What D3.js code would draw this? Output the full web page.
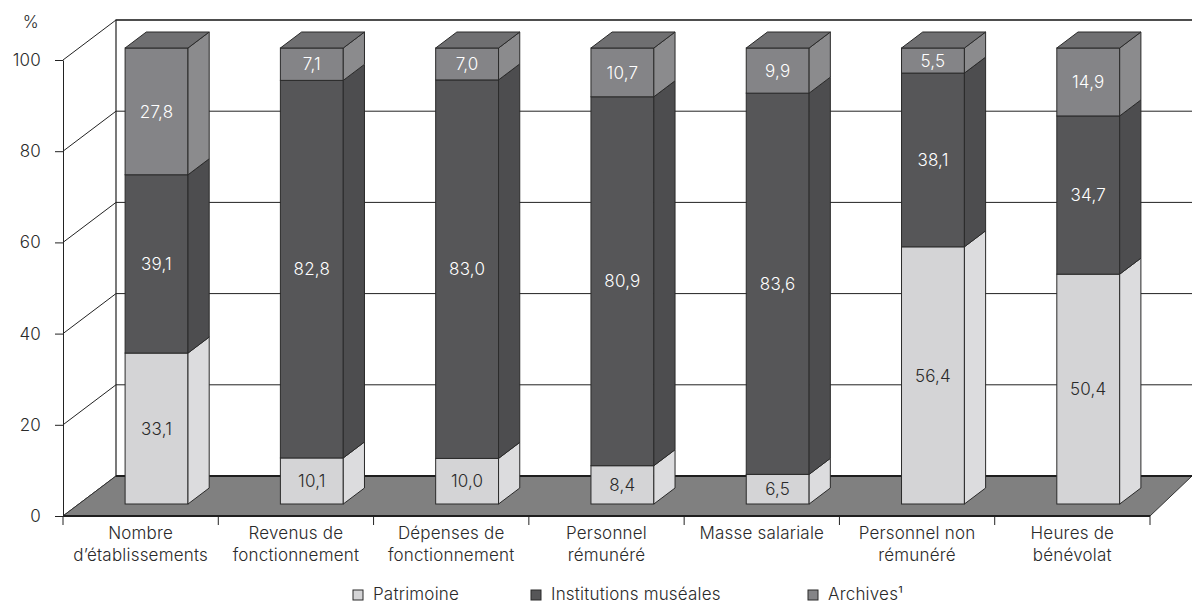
<!DOCTYPE html>
<html>
<head>
<meta charset="utf-8">
<script src="https://cdn.jsdelivr.net/npm/d3@7"></script>
<style>
  body { margin: 0; background: #fff; }
  text { font-family: Inter, "DejaVu Sans", sans-serif; font-size: 17px; font-weight: 300; fill: #2a2a2a; letter-spacing: 0.2px; }
</style>
</head>
<body>
<svg id="chart" width="1192" height="606"></svg>
<script>
// categories (two-line labels)
const categories = [
    ['Nombre', 'd’établissements'],
    ['Revenus de', 'fonctionnement'],
    ['Dépenses de', 'fonctionnement'],
    ['Personnel', 'rémunéré'],
    ['Masse salariale'],
    ['Personnel non', 'rémunéré'],
    ['Heures de', 'bénévolat']
];
const patrimoine = [33.1, 10.1, 10.0, 8.4, 6.5, 56.4, 50.4];
const institutions = [39.1, 82.8, 83.0, 80.9, 83.6, 38.1, 34.7];
const archives = [27.8, 7.1, 7.0, 10.7, 9.9, 5.5, 14.9];
const yTicks = [0, 20, 40, 60, 80, 100];
const seriesNames = ['Patrimoine', 'Institutions muséales', 'Archives¹'];

function fmt(v) {
    return v.toFixed(1).replace('.', ',');
}

function init() {
    let svg = d3.select('#chart');
    let width = 1192;

    // depth of the 3d box, and where the bars sit inside it
    let depthX = 53, depthY = -40;
    let barFront = 0.3, barBack = 0.7;

    let y = d3.scaleLinear().domain([0, 100]).range([516, 60]);
    let x = d3.scaleBand().domain(d3.range(categories.length)).range([63, 1150]);
    let bw = x.bandwidth();
    let barW = bw * 0.405;

    // back wall
    svg.append('rect')
        .attr('x', 63 + depthX)
        .attr('y', y(100) + depthY)
        .attr('width', width)
        .attr('height', y(0) - y(100))
        .style('fill', '#fff')
        .style('stroke', '#222')
        .style('stroke-width', 1.2);

    // grid lines on back wall + left wall
    svg.append('g').selectAll('line.back').data(yTicks.filter(d => d > 0)).join('line')
        .attr('x1', 63 + depthX)
        .attr('x2', width)
        .attr('y1', d => y(d) + depthY)
        .attr('y2', d => y(d) + depthY)
        .style('stroke', '#222')
        .style('stroke-width', 1);
    svg.append('g').selectAll('line.side').data(yTicks).join('line')
        .attr('x1', 63)
        .attr('y1', d => y(d))
        .attr('x2', 63 + depthX)
        .attr('y2', d => y(d) + depthY)
        .style('stroke', '#222')
        .style('stroke-width', 1);

    // floor (right end is cut by the picture edge)
    let floor = [[63, y(0)], [1150, y(0)], [width, y(0) + depthY], [63 + depthX, y(0) + depthY]];
    svg.append('path')
        .attr('d', 'M' + floor.join('L') + 'Z')
        .style('fill', '#808080')
        .style('stroke', '#333')
        .style('stroke-width', 1);
    svg.append('line')
        .attr('x1', 63 + depthX).attr('x2', width)
        .attr('y1', y(0) + depthY).attr('y2', y(0) + depthY)
        .style('stroke', '#1e1e1e').style('stroke-width', 2.2);
    svg.append('line')
        .attr('x1', 63).attr('x2', 1150)
        .attr('y1', y(0)).attr('y2', y(0))
        .style('stroke', '#1e1e1e').style('stroke-width', 2.2);

    // y axis
    let yAxis = svg.append('g')
        .attr('transform', 'translate(63,0)')
        .call(d3.axisLeft(y).tickValues(yTicks).tickSize(8).tickSizeOuter(0).tickPadding(14));
    yAxis.select('.domain').style('stroke', '#222');
    yAxis.selectAll('.tick line').style('stroke', '#222');
    yAxis.selectAll('.tick text')
        .style('font-family', 'Inter, "DejaVu Sans", sans-serif')
        .style('font-size', '17px')
        .style('font-weight', 300)
        .style('fill', '#2a2a2a');
    svg.append('text')
        .attr('x', 39)
        .attr('y', 28)
        .attr('text-anchor', 'end')
        .text('%');

    // x ticks at band edges
    let edges = d3.range(categories.length + 1).map(i => i < categories.length ? x(i) : x(i - 1) + bw);
    svg.append('g').selectAll('line').data(edges).join('line')
        .attr('x1', d => d).attr('x2', d => d)
        .attr('y1', y(0)).attr('y2', y(0) + 9)
        .style('stroke', '#222');

    // stacked bars
    let colors = {
        front: ['#d4d4d6', '#565658', '#848487'],
        side: ['#dcdcde', '#4d4d4f', '#8b8b8d'],
        top: ['#d0d0d2', '#505052', '#6f6f71'],
        text: ['#2a2a2a', '#ffffff', '#ffffff']
    };
    let stack = categories.map((c, i) => {
        let vals = [patrimoine[i], institutions[i], archives[i]];
        let base = 0;
        return vals.map((v, k) => {
            let seg = {k: k, v: v, y0: base, y1: base + v, i: i};
            base += v;
            return seg;
        });
    });

    let fdx = depthX * barFront, fdy = depthY * barFront;
    let sdx = depthX * (barBack - barFront), sdy = depthY * (barBack - barFront);

    stack.forEach((segs, i) => {
        let g = svg.append('g');
        let left = x(i) + bw / 2 - barW / 2 + fdx;
        let right = left + barW;

        g.selectAll('rect').data(segs).join('rect')
            .attr('x', left)
            .attr('y', d => y(d.y1) + fdy)
            .attr('width', barW)
            .attr('height', d => y(d.y0) - y(d.y1))
            .style('fill', d => colors.front[d.k])
            .style('stroke', '#2a2a2a')
            .style('stroke-width', 1);

        g.selectAll('path.side').data(segs).join('path')
            .attr('class', 'side')
            .attr('d', d => {
                let yt = y(d.y1) + fdy, yb = y(d.y0) + fdy;
                return 'M' + [[right, yt], [right, yb], [right + sdx, yb + sdy], [right + sdx, yt + sdy]].join('L') + 'Z';
            })
            .style('fill', d => colors.side[d.k])
            .style('stroke', '#2a2a2a')
            .style('stroke-width', 1);

        let topSeg = segs[segs.length - 1];
        let yt = y(topSeg.y1) + fdy;
        g.append('path')
            .attr('d', 'M' + [[left, yt], [right, yt], [right + sdx, yt + sdy], [left + sdx, yt + sdy]].join('L') + 'Z')
            .style('fill', colors.top[topSeg.k])
            .style('stroke', '#2a2a2a')
            .style('stroke-width', 1);

        g.selectAll('text').data(segs).join('text')
            .attr('x', left + barW / 2)
            .attr('y', d => y((d.y0 + d.y1) / 2) + fdy)
            .attr('dy', '0.36em')
            .attr('text-anchor', 'middle')
            .style('fill', d => colors.text[d.k])
            .text(d => fmt(d.v));
    });

    // category labels
    let labels = svg.append('g').selectAll('text').data(categories).join('text')
        .attr('text-anchor', 'middle');
    labels.selectAll('tspan').data((d, i) => d.map(t => ({t: t, i: i}))).join('tspan')
        .attr('x', d => x(d.i) + bw / 2)
        .attr('y', (d, j) => 539 + j * 22)
        .text(d => d.t);

    // legend
    let legendX = [353, 531, 808];
    let legend = svg.append('g').selectAll('g').data(seriesNames).join('g')
        .attr('transform', (d, k) => 'translate(' + legendX[k] + ',0)');
    legend.append('rect')
        .attr('x', 0)
        .attr('y', 590)
        .attr('width', 10)
        .attr('height', 10)
        .style('fill', (d, k) => colors.front[k])
        .style('stroke', '#2a2a2a');
    legend.append('text')
        .attr('x', 20)
        .attr('y', 600)
        .text(d => d);
}

init();
</script>
</body>
</html>
